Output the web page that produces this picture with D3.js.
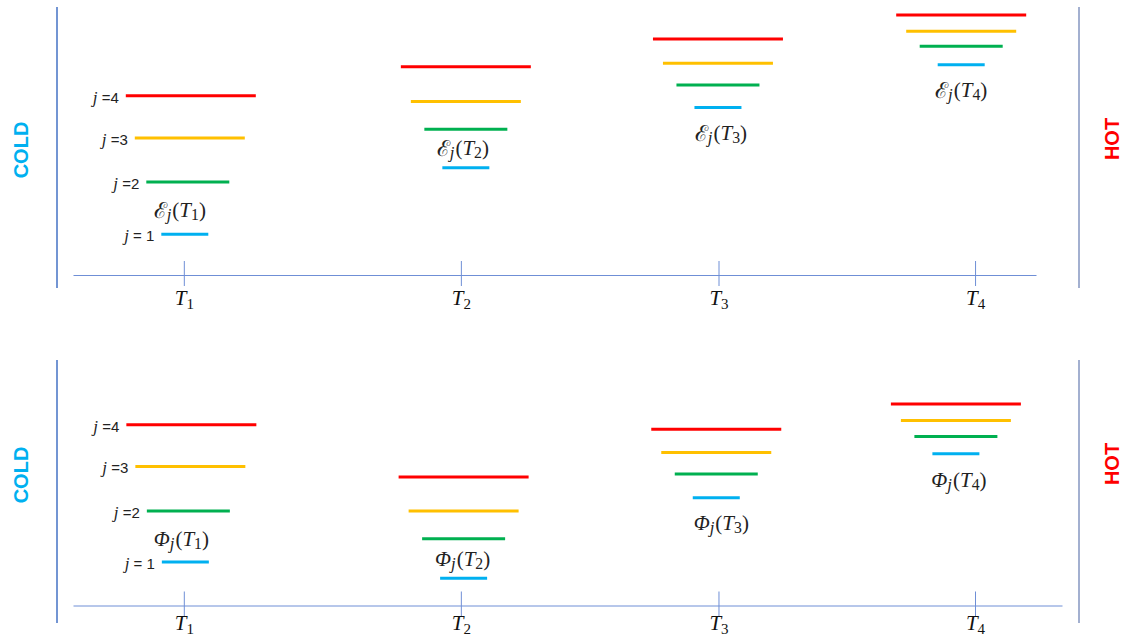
<!DOCTYPE html>
<html>
<head>
<meta charset="utf-8">
<script src="https://cdn.jsdelivr.net/npm/d3@7/dist/d3.min.js"></script>
<style>
  html, body { margin: 0; padding: 0; background: #fff; }
  svg { display: block; }
</style>
</head>
<body>
<svg id="mainsvg" width="1122" height="642"></svg>
<script>
// temperatures on the x axis (T1..T4) and where each level group sits
const temps = ['1', '2', '3', '4'];
const tickT = [1, 2, 2.93, 3.856];
const epsCenterT = [1.018, 2.018, 2.928, 3.806];
const phiCenterT = [1.02, 2.01, 2.922, 3.787];

// level values per temperature, j = 1..4
const epsLevels = [
  [1.51, 3.44, 5.07, 6.64],
  [3.97, 5.40, 6.43, 7.71],
  [6.20, 7.04, 7.84, 8.74],
  [7.79, 8.47, 9.03, 9.63]
];
const phiLevels = [
  [1.61, 3.50, 5.15, 6.69],
  [1.01, 2.47, 3.50, 4.76],
  [3.99, 4.87, 5.67, 6.53],
  [5.62, 6.26, 6.85, 7.46]
];
const jLabels = ['j = 1', 'j =2', 'j =3', 'j =4'];

// styling
const levelColor = ['#00B0F0', '#00B050', '#FFC000', '#FF0000'];
const levelWidth = [47, 83, 110, 130];
const levelShiftX = [-4, -1, 1, 2]; // small per-level offsets seen in the drawing
const axisColor = '#6F8FD6';
const serif = '"Liberation Serif", "DejaVu Serif", serif';
const sans = '"Liberation Sans", Arial, sans-serif';

const svg = d3.select('#mainsvg');

const panels = [
  {symbol: '\u2130', levels: epsLevels, centers: epsCenterT, axisY: 275, xRange: [73, 1036], xMax: 4.076,
   frame: [7, 288], tickDy: 30, coldY: 150, hotY: 139, labelShift: [[-9, -24], [-3, -20], [3, 25], [0, 25]]},
  {symbol: '\u03A6', levels: phiLevels, centers: phiCenterT, axisY: 605.5, xRange: [73, 1062], xMax: 4.17,
   frame: [360, 623], tickDy: 24, coldY: 475, hotY: 464, labelShift: [[-8, -23], [-1, -19], [5, 25], [3, 26]]}
];

function mathLabel(sel, sym, n) {
  if (sym === '\u03A6') {
    sel.append('tspan').attr('font-style', 'italic').text(sym);
  } else {
    sel.append('tspan').attr('font-family', '"DejaVu Serif", serif').attr('font-size', '1.05em').text(sym);
  }
  sel.append('tspan').attr('font-style', 'italic').attr('font-size', '0.8em').attr('dy', 4).text('j');
  sel.append('tspan').attr('dy', -4).attr('dx', 1).text('(');
  sel.append('tspan').attr('font-style', 'italic').text('T');
  sel.append('tspan').attr('font-size', '0.75em').attr('dy', 4).text(n);
  sel.append('tspan').attr('dy', -4).text(')');
}

panels.forEach(p => {
  const g = svg.append('g');

  const xScale = d3.scaleLinear().domain([0.6, p.xMax]).range(p.xRange);
  const yScale = d3.scaleLinear().domain([0, 10]).range([p.axisY, p.axisY - 270]);

  // frame lines
  g.append('line').attr('x1', 57).attr('x2', 57).attr('y1', p.frame[0]).attr('y2', p.frame[1])
    .attr('stroke', '#4472C4').attr('stroke-width', 1.5);
  g.append('line').attr('x1', 1079).attr('x2', 1079).attr('y1', p.frame[0]).attr('y2', p.frame[1])
    .attr('stroke', '#8496C0').attr('stroke-width', 1.5);

  // x axis
  const xAxis = d3.axisBottom(xScale).tickValues(tickT).tickSize(0).tickFormat('');
  const xAxisG = g.append('g').attr('transform', `translate(0, ${p.axisY})`).call(xAxis);
  xAxisG.select('.domain').attr('stroke', axisColor);
  xAxisG.selectAll('.tick line').attr('y1', -14).attr('y2', 11).attr('stroke', axisColor);
  xAxisG.selectAll('.tick text').remove();
  xAxisG.selectAll('.tick').each(function(d, i) {
    const t = d3.select(this).append('text')
      .attr('y', p.tickDy).attr('text-anchor', 'middle')
      .attr('fill', '#111').attr('font-family', serif).attr('font-size', 21);
    t.append('tspan').attr('font-style', 'italic').text('T');
    t.append('tspan').attr('font-size', 15).attr('dy', 4).text(temps[i]);
  });

  // energy levels
  p.levels.forEach((lv, ti) => {
    const cx = xScale(p.centers[ti]);
    const sx = ti === 0 ? levelShiftX : [0, 0, 0, 0];
    g.selectAll(null)
      .data(lv)
      .enter().append('line')
      .attr('x1', (d, j) => cx + sx[j] - levelWidth[j] / 2)
      .attr('x2', (d, j) => cx + sx[j] + levelWidth[j] / 2)
      .attr('y1', d => yScale(d))
      .attr('y2', d => yScale(d))
      .attr('stroke', (d, j) => levelColor[j])
      .attr('stroke-width', 3);

    const lab = g.append('text')
      .attr('x', cx + p.labelShift[ti][0])
      .attr('y', yScale(lv[0]) + p.labelShift[ti][1])
      .attr('dominant-baseline', 'central')
      .attr('text-anchor', 'middle')
      .attr('fill', '#222')
      .attr('font-family', serif)
      .attr('font-size', 21);
    mathLabel(lab, p.symbol, temps[ti]);

    if (ti === 0) {
      g.selectAll(null)
        .data(lv)
        .enter().append('text')
        .attr('x', (d, j) => cx + sx[j] - levelWidth[j] / 2 - 7)
        .attr('y', d => yScale(d) + 1)
        .attr('dominant-baseline', 'central')
        .attr('text-anchor', 'end')
        .attr('fill', '#222')
        .attr('font-family', sans)
        .attr('font-size', 15)
        .each(function(d, j) {
          const s = d3.select(this);
          s.append('tspan').attr('font-style', 'italic').attr('font-family', serif).attr('font-size', 17).text('j');
          s.append('tspan').text(jLabels[j].slice(1));
        });
    }
  });

  // COLD / HOT side labels
  g.append('text')
    .attr('transform', `translate(21, ${p.coldY}) rotate(-90)`)
    .attr('text-anchor', 'middle').attr('dominant-baseline', 'central')
    .attr('fill', '#00B0F0').attr('font-weight', 'bold')
    .attr('font-family', sans).attr('font-size', 20)
    .text('COLD');
  g.append('text')
    .attr('transform', `translate(1112, ${p.hotY}) rotate(-90)`)
    .attr('text-anchor', 'middle').attr('dominant-baseline', 'central')
    .attr('fill', '#FF0000').attr('font-weight', 'bold')
    .attr('font-family', sans).attr('font-size', 20)
    .text('HOT');
});
</script>
</body>
</html>
